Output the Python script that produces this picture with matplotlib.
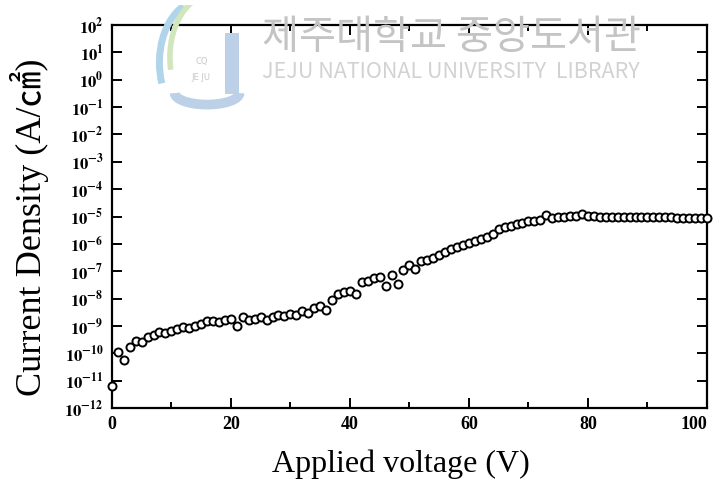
import numpy as np
import matplotlib
matplotlib.use("Agg")
import matplotlib.pyplot as plt
from matplotlib.patches import Arc, FancyBboxPatch
from matplotlib.ticker import FixedLocator, MultipleLocator, NullLocator

# applied voltage (V), one reading per volt
voltage = np.arange(0, 101)

# log10 of current density (A/cm2)
log_density = [
    -11.19, -9.97, -10.23, -9.78, -9.54, -9.58, -9.42, -9.32, -9.21, -9.26,
    -9.17, -9.11, -9.05, -9.07, -9.01, -8.93, -8.81, -8.81, -8.87, -8.77,
    -8.74, -9.01, -8.68, -8.78, -8.74, -8.68, -8.78, -8.68, -8.59, -8.65,
    -8.56, -8.59, -8.44, -8.54, -8.34, -8.28, -8.40, -8.04, -7.83, -7.77,
    -7.74, -7.83, -7.40, -7.34, -7.24, -7.22, -7.55, -7.12, -7.46, -6.97,
    -6.79, -6.91, -6.64, -6.58, -6.52, -6.42, -6.30, -6.20, -6.12, -6.05,
    -5.97, -5.91, -5.81, -5.75, -5.63, -5.45, -5.39, -5.33, -5.27, -5.23,
    -5.18, -5.15, -5.11, -4.96, -5.04, -5.02, -5.02, -4.99, -4.98, -4.90,
    -4.98, -4.99, -5.00, -5.00, -5.01, -5.01, -5.01, -5.02, -5.02, -5.02,
    -5.02, -5.03, -5.03, -5.03, -5.03, -5.04, -5.04, -5.04, -5.04, -5.05,
    -5.05,
]

y_exponents = list(range(-12, 3))
x_major = [0, 20, 40, 60, 80, 100]

plt.rcParams['mathtext.fontset'] = 'stix'
serif = ['Liberation Serif', 'Noto Sans CJK KR', 'DejaVu Serif']

fig = plt.figure(figsize=(7.17, 4.86), dpi=100)
ax = fig.add_axes([0.156, 0.1605, 0.830, 0.788])

density = 10.0 ** np.array(log_density)
ax.plot(voltage, density, linestyle='none', marker='o', markersize=5.8,
        markerfacecolor='white', markeredgecolor='black', markeredgewidth=1.4,
        clip_on=False, zorder=5)

ax.set_yscale('log')
ax.set_xlim(0, 100)
ax.set_ylim(1e-12, 1e2)

ax.yaxis.set_major_locator(FixedLocator([10.0 ** e for e in y_exponents]))
ax.yaxis.set_minor_locator(NullLocator())
ax.set_yticklabels([r'$\mathbf{10^{%d}}$' % e for e in y_exponents], fontsize=12)
ax.xaxis.set_major_locator(FixedLocator(x_major))
ax.xaxis.set_minor_locator(MultipleLocator(10))
ax.set_xticklabels([str(v) for v in x_major], fontsize=13,
                   fontweight='bold', family=serif)
# last label sits left of its tick, flush with the frame
ax.get_xticklabels()[-1].set_horizontalalignment('right')

ax.tick_params(which='both', direction='in', top=True, right=True, width=1.4)
ax.tick_params(which='major', length=7, pad=6)
ax.tick_params(which='minor', length=4)
for side in ax.spines.values():
    side.set_linewidth(1.6)

ax.set_xlabel('Applied voltage (V)', fontsize=23, family=serif)
ax.xaxis.set_label_coords(0.486, -0.108)
ax.set_ylabel('Current Density (A/㎠)', fontsize=26, family=serif)
ax.yaxis.set_label_coords(-0.106, 0.471)

# library watermark
fig.text(0.365, 0.922, '제주대학교 중앙도서관', fontsize=29, color='#c4c4c4',
         family=['Noto Sans CJK KR'], ha='left', va='center', zorder=10)
fig.text(0.366, 0.851, 'JEJU NATIONAL UNIVERSITY  LIBRARY', fontsize=15.5,
         color='#d2d2d2', family=['Noto Sans CJK KR'], ha='left', va='center',
         zorder=10)

# rough logo: a pale blue J with two swooshes
logo = fig.add_axes([0.209, 0.774, 0.133, 0.216])
logo.set_xlim(0, 10)
logo.set_ylim(0, 10)
logo.axis('off')
logo.add_patch(FancyBboxPatch((7.9, 1.5), 1.5, 5.8, boxstyle='square,pad=0',
                              color='#bcd0e8', lw=0))
logo.add_patch(Arc((6.0, 1.6), 6.8, 2.2, theta1=180, theta2=360,
                   color='#bcd0e8', lw=7))
logo.add_patch(Arc((5.5, 4.5), 9.0, 12.0, theta1=110, theta2=205,
                   color='#b0d4ea', lw=5))
logo.add_patch(Arc((6.6, 5.0), 9.0, 12.0, theta1=100, theta2=195,
                   color='#d2e6bd', lw=4))
logo.text(5.4, 4.4, 'CQ', fontsize=6, color='#c8c8c8', ha='center')
logo.text(5.4, 2.8, 'JE JU', fontsize=6, color='#c8c8c8', ha='center')

fig.savefig('out.png', dpi=100)
